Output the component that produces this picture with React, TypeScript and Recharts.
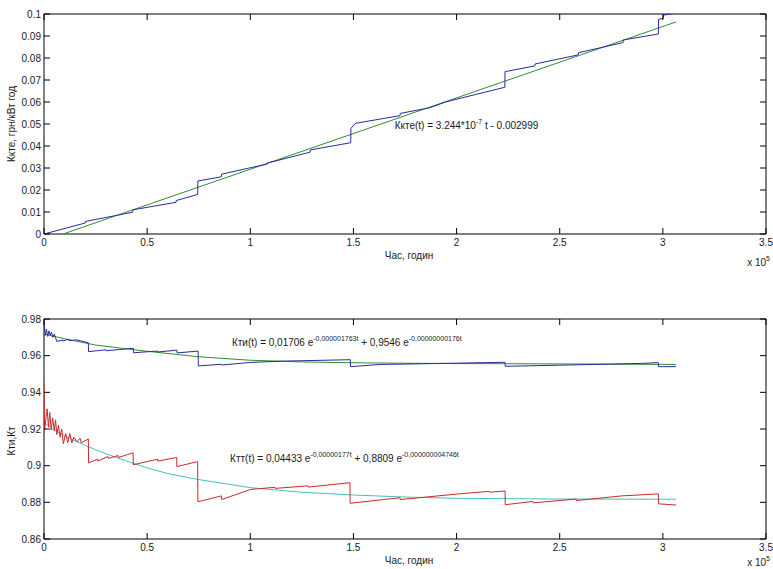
import React from 'react';
import { LineChart, Line, XAxis, YAxis, ReferenceArea, ReferenceDot, Label } from 'recharts';

// ---------- ticks ----------
const X_TICKS = [0, 50000, 100000, 150000, 200000, 250000, 300000, 350000];
const TOP_Y_TICKS = [0, 0.01, 0.02, 0.03, 0.04, 0.05, 0.06, 0.07, 0.08, 0.09, 0.1];
const BOTTOM_Y_TICKS = [0.86, 0.88, 0.9, 0.92, 0.94, 0.96, 0.98];

// ---------- top chart: Kкте ----------
const kkteHours = [0, 20000, 20100, 43000, 43100, 64000, 64100, 74500, 74600, 86000, 86100, 100000, 108000, 108100, 129000, 129100, 148700, 148800, 151000, 172600, 172700, 187000, 195000, 223400, 223500, 238000, 238100, 259000, 259100, 280700, 280800, 297800, 297900, 300200, 300300, 307000];
const kkteValues = [0, 0.005, 0.0057, 0.0099, 0.011, 0.0144, 0.0152, 0.018, 0.0241, 0.026, 0.0272, 0.0301, 0.0317, 0.0322, 0.0372, 0.0382, 0.0415, 0.048, 0.0503, 0.0538, 0.0548, 0.0574, 0.0601, 0.0667, 0.0738, 0.0764, 0.0773, 0.0814, 0.0824, 0.087, 0.0882, 0.0909, 0.0976, 0.098, 0.0995, 0.1004];
const kkteFitHours = [9245, 306400];
const kkteFitValues = [0, 0.0964];

// ---------- bottom chart: Kти ----------
const ktiHours = [0, 600, 1200, 1800, 2400, 3000, 3600, 4300, 5000, 5600, 6200, 9000, 9100, 12000, 12100, 16000, 21500, 21600, 30000, 30100, 43300, 43400, 55000, 55100, 64400, 64500, 74700, 74800, 86000, 86100, 100000, 115000, 148500, 148600, 163000, 180000, 223500, 223600, 250000, 290000, 297800, 297900, 306400];
const ktiValues = [0.9785, 0.971, 0.9745, 0.9705, 0.9735, 0.9712, 0.9728, 0.97, 0.9718, 0.9698, 0.9678, 0.9685, 0.968, 0.969, 0.9682, 0.9686, 0.967, 0.9622, 0.9632, 0.9627, 0.964, 0.9616, 0.9625, 0.962, 0.963, 0.9615, 0.9625, 0.9544, 0.9553, 0.9549, 0.9563, 0.957, 0.9578, 0.954, 0.9552, 0.9555, 0.9564, 0.9542, 0.9548, 0.9558, 0.9562, 0.954, 0.954];
const ktiFitHours = [0, 10000, 25000, 50000, 75000, 100000, 125000, 150000, 200000, 250000, 306400];
const ktiFitValues = [0.9718, 0.9692, 0.9658, 0.9624, 0.9594, 0.9575, 0.9566, 0.9561, 0.9557, 0.9555, 0.9552];

// ---------- bottom chart: Kтт ----------
const kttHours = [0, 300, 1500, 2200, 2800, 3500, 4200, 5000, 5600, 6200, 7000, 7800, 8600, 9400, 10500, 11500, 12500, 13500, 14500, 16000, 17500, 18000, 21500, 21600, 26000, 26100, 31000, 31100, 36000, 36100, 43200, 43300, 55000, 55100, 64300, 64400, 74500, 74600, 86000, 86100, 100000, 112000, 112100, 128000, 128100, 148300, 148400, 172600, 172700, 200000, 216000, 216100, 223500, 223600, 237000, 237100, 258000, 258100, 280000, 297800, 297900, 306400];
const kttValues = [0.945, 0.9195, 0.931, 0.921, 0.929, 0.9195, 0.926, 0.919, 0.925, 0.917, 0.922, 0.9155, 0.92, 0.912, 0.9175, 0.9125, 0.9175, 0.9125, 0.9155, 0.913, 0.915, 0.9125, 0.9145, 0.9015, 0.9035, 0.9025, 0.905, 0.904, 0.9055, 0.9045, 0.907, 0.9005, 0.9035, 0.9025, 0.9045, 0.8995, 0.9022, 0.8803, 0.8835, 0.8815, 0.887, 0.8882, 0.8876, 0.889, 0.8883, 0.8907, 0.8795, 0.8825, 0.8815, 0.8845, 0.886, 0.8855, 0.8862, 0.8787, 0.8805, 0.8797, 0.8818, 0.881, 0.8835, 0.8846, 0.8792, 0.8785];
const kttFitHours = [0, 5000, 10000, 20000, 30000, 40000, 50000, 60000, 75000, 90000, 100000, 125000, 150000, 175000, 200000, 250000, 306400];
const kttFitValues = [0.9235, 0.9195, 0.9162, 0.911, 0.9065, 0.9025, 0.8988, 0.8957, 0.8924, 0.8898, 0.888, 0.8855, 0.884, 0.8829, 0.8822, 0.8818, 0.8817];

const zip = (h: number[], v: number[]) => h.map((t, i) => ({ t, v: v[i] }));

const FONT = '"Liberation Sans", Arial, Helvetica, sans-serif';
const TXT = '#1a1a1a';
const BLUE = '#2a2aa0';
const GREEN = '#2f8f2f';
const RED = '#cc2a2a';
const TEAL = '#45bfbf';

const W = 773;
const PLOT_W = 722;
const PLOT_H = 220;
const TICK_LEN = 6;

const fmtX = (v: number) => String(v / 100000);

const makeXTick = () => (props: any) => {
  const { x, y, payload } = props;
  return (
    <g>
      <line x1={x} x2={x} y1={y} y2={y - TICK_LEN} stroke="#000" />
      <line x1={x} x2={x} y1={y - PLOT_H} y2={y - PLOT_H + TICK_LEN} stroke="#000" />
      <text x={x} y={y + 12} textAnchor="middle" fontSize={10} fontFamily={FONT} fill={TXT}>
        {fmtX(payload.value)}
      </text>
    </g>
  );
};

const makeYTick = () => (props: any) => {
  const { x, y, payload } = props;
  return (
    <g>
      <line x1={x} x2={x + TICK_LEN} y1={y} y2={y} stroke="#000" />
      <line x1={x + PLOT_W} x2={x + PLOT_W - TICK_LEN} y1={y} y2={y} stroke="#000" />
      <text x={x - 3} y={y + 3.5} textAnchor="end" fontSize={10} fontFamily={FONT} fill={TXT}>
        {String(payload.value)}
      </text>
    </g>
  );
};

const XTitle = (props: any) => {
  const vb = props.viewBox;
  return (
    <text x={vb.x + vb.width / 2 + 4} y={vb.y + 25} textAnchor="middle" fontSize={10} fontFamily={FONT} fill={TXT}>
      Час, годин
    </text>
  );
};

const makeXExp = (dy: number) => (props: any) => {
  const vb = props.viewBox;
  return (
    <text x={vb.x + vb.width + 4} y={vb.y + dy} textAnchor="end" fontSize={10} fontFamily={FONT} fill={TXT}>
      x 10
      <tspan dy={-5} fontSize={7}>5</tspan>
    </text>
  );
};

const makeYTitle = (text: string, shift: number) => (props: any) => {
  const vb = props.viewBox;
  const cx = vb.x + 11;
  const cy = vb.y + vb.height / 2 + shift;
  return (
    <text
      x={cx}
      y={cy}
      transform={`rotate(-90, ${cx}, ${cy})`}
      textAnchor="middle"
      dominantBaseline="central"
      fontSize={10}
      fontFamily={FONT}
      fill={TXT}
    >
      {text}
    </text>
  );
};

const EqTop = (props: any) => {
  const vb = props.viewBox;
  return (
    <text x={vb.x} y={vb.y} fontSize={10} fontFamily={FONT} fill={TXT}>
      Ккте(t) = 3.244*10
      <tspan dy={-5} fontSize={7}>-7</tspan>
      <tspan dy={5} fontSize={10}> t - 0.002999</tspan>
    </text>
  );
};

const makeEq = (name: string, a: string, ea: string, b: string, eb: string) => (props: any) => {
  const vb = props.viewBox;
  return (
    <text x={vb.x} y={vb.y} fontSize={10} fontFamily={FONT} fill={TXT}>
      {`${name}(t) = ${a} e`}
      <tspan dy={-5} fontSize={7}>{ea}</tspan>
      <tspan dy={5} fontSize={10}>{` + ${b} e`}</tspan>
      <tspan dy={-5} fontSize={7}>{eb}</tspan>
    </text>
  );
};

const ANN_TOP = { t: 170000, v: 0.0477 };
const ANN_KTI = { t: 91100, v: 0.9653 };
const ANN_KTT = { t: 90200, v: 0.902 };

export default function App() {
  const xTick = makeXTick();
  const yTick = makeYTick();
  return (
    <div style={{ position: 'absolute', left: 0, top: 0, width: W, height: 569, background: '#fff', overflow: 'hidden' }}>
      <div style={{ position: 'absolute', left: 0, top: 0 }}>
        <LineChart width={W} height={280} margin={{ top: 14, right: 7, bottom: 16, left: 0 }}>
          <XAxis
            dataKey="t"
            type="number"
            domain={[0, 350000]}
            ticks={X_TICKS}
            interval={0}
            allowDataOverflow
            tickSize={0}
            tickMargin={0}
            tickLine={false}
            axisLine={false}
            height={30}
            tick={xTick}
          >
            <Label content={XTitle} />
            <Label content={makeXExp(32)} />
          </XAxis>
          <YAxis
            type="number"
            domain={[0, 0.1]}
            ticks={TOP_Y_TICKS}
            interval={0}
            allowDataOverflow
            tickSize={0}
            tickMargin={0}
            tickLine={false}
            axisLine={false}
            width={44}
            tick={yTick}
          >
            <Label content={makeYTitle('Ккте, грн/кВт год', 0)} />
          </YAxis>
          <ReferenceArea x1={0} x2={350000} y1={0} y2={0.1} fill="none" stroke="#000" strokeWidth={1} ifOverflow="visible" />
          <Line data={zip(kkteFitHours, kkteFitValues)} dataKey="v" type="linear" stroke={GREEN} strokeWidth={1} dot={false} isAnimationActive={false} />
          <Line data={zip(kkteHours, kkteValues)} dataKey="v" type="linear" stroke={BLUE} strokeWidth={1} dot={false} isAnimationActive={false} />
          <ReferenceDot x={ANN_TOP.t} y={ANN_TOP.v} r={0} stroke="none" fill="none" label={EqTop} />
        </LineChart>
      </div>
      <div style={{ position: 'absolute', left: 0, top: 290 }}>
        <LineChart width={W} height={279} margin={{ top: 29, right: 7, bottom: 0, left: 0 }}>
          <XAxis
            dataKey="t"
            type="number"
            domain={[0, 350000]}
            ticks={X_TICKS}
            interval={0}
            allowDataOverflow
            tickSize={0}
            tickMargin={0}
            tickLine={false}
            axisLine={false}
            height={30}
            tick={xTick}
          >
            <Label content={XTitle} />
            <Label content={makeXExp(27)} />
          </XAxis>
          <YAxis
            type="number"
            domain={[0.86, 0.98]}
            ticks={BOTTOM_Y_TICKS}
            interval={0}
            allowDataOverflow
            tickSize={0}
            tickMargin={0}
            tickLine={false}
            axisLine={false}
            width={44}
            tick={yTick}
          >
            <Label content={makeYTitle('Кти,Кт', 12)} />
          </YAxis>
          <ReferenceArea x1={0} x2={350000} y1={0.86} y2={0.98} fill="none" stroke="#000" strokeWidth={1} ifOverflow="visible" />
          <Line data={zip(ktiFitHours, ktiFitValues)} dataKey="v" type="linear" stroke={GREEN} strokeWidth={1} dot={false} isAnimationActive={false} />
          <Line data={zip(ktiHours, ktiValues)} dataKey="v" type="linear" stroke={BLUE} strokeWidth={1} dot={false} isAnimationActive={false} />
          <Line data={zip(kttFitHours, kttFitValues)} dataKey="v" type="linear" stroke={TEAL} strokeWidth={1} dot={false} isAnimationActive={false} />
          <Line data={zip(kttHours, kttValues)} dataKey="v" type="linear" stroke={RED} strokeWidth={1} dot={false} isAnimationActive={false} />
          <ReferenceDot
            x={ANN_KTI.t}
            y={ANN_KTI.v}
            r={0}
            stroke="none"
            fill="none"
            label={makeEq('Кти', '0,01706', '-0,000001763t', '0,9546', '-0,00000000176t')}
          />
          <ReferenceDot
            x={ANN_KTT.t}
            y={ANN_KTT.v}
            r={0}
            stroke="none"
            fill="none"
            label={makeEq('Ктт', '0,04433', '-0,00000177t', '0,8809', '-0,000000004746t')}
          />
        </LineChart>
      </div>
    </div>
  );
}
